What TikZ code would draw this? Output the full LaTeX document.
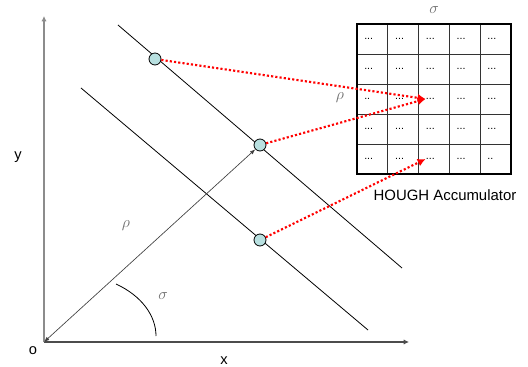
\documentclass[tikz,border=0pt]{standalone}
\usepackage{fontspec}
\setmainfont{Liberation Sans}
\usepackage{amsmath}
\usetikzlibrary{arrows.meta,positioning}

\definecolor{ptfill}{RGB}{184,224,224}
\definecolor{lblgray}{RGB}{110,110,110}

\begin{document}
\begin{tikzpicture}[x=0.75pt, y=-0.75pt]
    \useasboundingbox (0,0) rectangle (528,367);

    % Style for nodes
    \tikzset{
        ptnode/.style={circle, draw=black, fill=ptfill, line width=0.6pt, minimum size=9pt, inner sep=0pt},
        axlabel/.style={inner sep=0pt, font=\fontsize{11}{13}\selectfont},
        greek/.style={inner sep=0pt, text=lblgray, font=\fontsize{13}{15}\selectfont},
        cellnode/.style={anchor=west, inner sep=0pt, font=\fontsize{8}{9}\selectfont},
        vote/.style={red, line width=1.6pt, dash pattern=on 1.6pt off 1.6pt, -{Latex[length=6pt, width=6pt]}}
    }

    % --- AXES ---
    \coordinate (O) at (44,342);
    \coordinate (Xend) at (409,342);
    \coordinate (Yend) at (44,16);
    \draw[black!70, line width=0.8pt, -{Latex[length=4pt, width=4pt]}] (O) -- (Xend);
    \draw[black!45, line width=1pt, -{Latex[length=4pt, width=4pt]}] (O) -- (Yend);
    \node[axlabel] (olbl) at (33,351) {o};
    \node[axlabel] (xlbl) at (224,361) {x};
    \node[axlabel] (ylbl) at (18,157) {y};

    % --- PARALLEL LINES ---
    \coordinate (L1a) at (118,25);
    \coordinate (L1b) at (402,268);
    \coordinate (L2a) at (81,88);
    \coordinate (L2b) at (368,330);
    \draw[line width=0.6pt] (L1a) -- (L1b);
    \draw[line width=0.6pt] (L2a) -- (L2b);

    % --- POINTS ---
    \node[ptnode] (p1) at (155,59) {};
    \node[ptnode] (p2) at (260,145) {};
    \node[ptnode] (p3) at (260,240) {};

    % --- RHO AND SIGMA ---
    \draw[black!75, line width=0.5pt, {Latex[length=4pt, width=3pt]}-{Latex[length=4pt, width=3pt]}] (O) -- (p2);
    \node[greek] (rholbl) at (126,226) {$\rho$};
    \draw[line width=0.6pt] (116,284) .. controls (142,296) and (156,316) .. (156,336);
    \node[greek] (siglbl) at (163,296) {$\sigma$};

    % --- HOUGH ACCUMULATOR ---
    % 5x5 cells, left 357, top 24, cell 30.8 x 30
    \foreach \r in {1,...,5} {
        \foreach \c in {1,...,5} {
            \pgfmathtruncatemacro{\short}{(\r==3 && \c==1) || (\r==5 && \c==5)}
            \ifnum\short=1
                \node[cellnode] (cell\r\c) at ({357+(\c-1)*30.8+7},{24+(\r-1)*30+15}) {..};
            \else
                \node[cellnode] (cell\r\c) at ({357+(\c-1)*30.8+7},{24+(\r-1)*30+15}) {...};
            \fi
        }
    }
    \foreach \k in {1,...,4} {
        \draw[black!80, line width=0.7pt] ({357+\k*30.8},24) -- ({357+\k*30.8},174);
        \draw[black!80, line width=0.7pt] (357,{24+\k*30}) -- (511,{24+\k*30});
    }
    \draw[line width=1.4pt] (357,24) rectangle (511,174);
    \node[greek] (gsig) at (434,10) {$\sigma$};
    \node[greek] (grho) at (340,98) {$\rho$};
    \node[inner sep=0pt, font=\fontsize{11.2}{13}\selectfont] (hough) at (445,195) {HOUGH Accumulator};

    % --- VOTES ---
    \draw[vote] (p2) -- (cell33.west);
    \draw[vote] (p1) -- (cell33.west);
    \draw[vote] (p3) -- (cell53.west);

\end{tikzpicture}
\end{document}
